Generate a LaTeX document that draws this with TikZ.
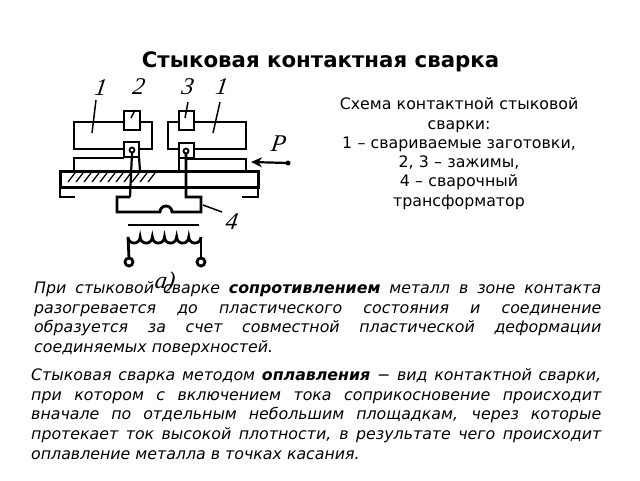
\documentclass[tikz,border=0pt]{standalone}
\usepackage{fontspec}
\setmainfont{DejaVu Sans}
\newfontfamily\labelfont{Liberation Serif}
\usetikzlibrary{positioning, arrows.meta}
\tikzset{
	part/.style={line width=2.8pt},
	wire/.style={line width=2.2pt},
	leader/.style={line width=1.5pt},
	numlabel/.style={font=\labelfont\itshape\fontsize{24}{24}\selectfont, inner sep=0pt, transform shape, xslant=0.15},
	para/.style={font=\itshape\fontsize{15.8}{19.6}\selectfont, align=justify, anchor=north west, inner sep=0pt}
}
\begin{document}
\begin{tikzpicture}[x=1pt, y=-1pt]
		\useasboundingbox (0, 0) rectangle (640, 480);
		% Title
		\node[font=\bfseries\fontsize{21.3}{21.3}\selectfont, inner sep=0pt] (title) at (320.5, 62) {Стыковая контактная сварка};
		% Caption on the right
		\node[font=\fontsize{15.8}{19.3}\selectfont, align=center, text width=270pt, anchor=north, inner sep=0pt] (caption) at (459, 97.5)
		{Схема контактной стыковой\\ сварки:\\ 1 – свариваемые заготовки,\\ 2, 3 – зажимы,\\ 4 – сварочный\\ трансформатор};
		% Workpieces
		\draw[part] (124, 122) -- (74, 122) -- (74, 149) -- (124, 149);
		\draw[part] (140, 122) -- (152, 122) -- (152, 149) -- (139, 149);
		\draw[part] (179, 122) -- (168, 122) -- (168, 149) -- (179, 149);
		\draw[part] (194, 122) -- (246, 122) -- (246, 149) -- (194, 149);
		% Clamps
		\draw[part] (124, 111) rectangle (140, 130);
		\draw[part] (179, 111) rectangle (194, 130);
		\draw[line width=1.8pt] (124, 142) rectangle (139, 157);
		\draw[line width=1.8pt] (179, 143) rectangle (194, 158);
		\draw[line width=1.8pt] (132, 150) circle (2.5);
		\draw[line width=1.8pt] (186, 151) circle (2.5);
		% Slides and bed
		\draw[part] (74, 171) -- (74, 158) -- (124, 158);
		\draw[wire] (139, 157) -- (140, 171);
		\draw[wire] (179, 158) -- (179, 171);
		\draw[part] (187, 159) -- (246, 159) -- (246, 171);
		\draw[line width=3pt] (60, 171) rectangle (258, 187);
		\draw[part] (60, 187) -- (60, 197) -- (75, 197);
		\draw[part] (258, 187) -- (258, 197) -- (242, 197);
		% Hatching
		\foreach \x in {68, 76, ..., 148} {
			\draw[line width=1.3pt] (\x, 182) -- (\x + 7, 173);
		}
		% Secondary winding
		\draw[wire] (132, 153) -- (130, 197);
		\draw[part] (130, 197) -- (117, 197) -- (117, 212) -- (160, 212) arc[start angle=180, end angle=360, radius=6] -- (201, 212) -- (201, 197) -- (186, 197) -- (186, 154);
		% Core and primary winding
		\draw[part] (128, 225) -- (199, 225);
		\draw[part] (129, 258) -- (128, 237)
		\foreach \i in {1, ..., 6} { arc[start angle=180, end angle=0, radius=6.08] };
		\draw[part] (201, 237) -- (201, 258);
		\draw[part, fill=white] (129, 262) circle (4);
		\draw[part, fill=white] (201, 262) circle (4);
		% Leaders
		\draw[leader] (96, 100) -- (92, 133);
		\draw[leader] (135, 110) -- (131, 118);
		\draw[leader] (188, 102) -- (185, 118);
		\draw[leader] (220, 102) -- (213, 133);
		\draw[leader] (203, 205) -- (222, 212);
		% Force arrow
		\draw[wire, -{Stealth[length=11pt, width=10pt]}] (288, 163) -- (251, 162);
		\fill (288, 163) circle (2.5);
		% Labels
		\node[numlabel] (lone) at (101, 88) {1};
		\node[numlabel] (ltwo) at (139, 87) {2};
		\node[numlabel] (lthree) at (188, 87) {3};
		\node[numlabel] (lonep) at (222, 87) {1};
		\node[numlabel] (lfour) at (232, 222) {4};
		\node[numlabel] (lforce) at (279, 144) {P};
		\node[numlabel] (lsub) at (165, 283) {а)};
		% Paragraphs
		\node[para, text width=567pt] (first) at (34, 281.5)
		{При стыковой сварке \textbf{сопротивлением} металл в зоне контакта\linebreak разогревается до пластического состояния и соединение\linebreak образуется за счет совместной пластической деформации\linebreak соединяемых поверхностей.};
		\node[para, text width=570pt] (second) at (31, 368.5)
		{Стыковая сварка методом \textbf{оплавления} − вид контактной сварки,\linebreak при котором с включением тока соприкосновение происходит\linebreak вначале по отдельным небольшим площадкам, через которые\linebreak протекает ток высокой плотности, в результате чего происходит\linebreak оплавление металла в точках касания.};
	\end{tikzpicture}
\end{document}
